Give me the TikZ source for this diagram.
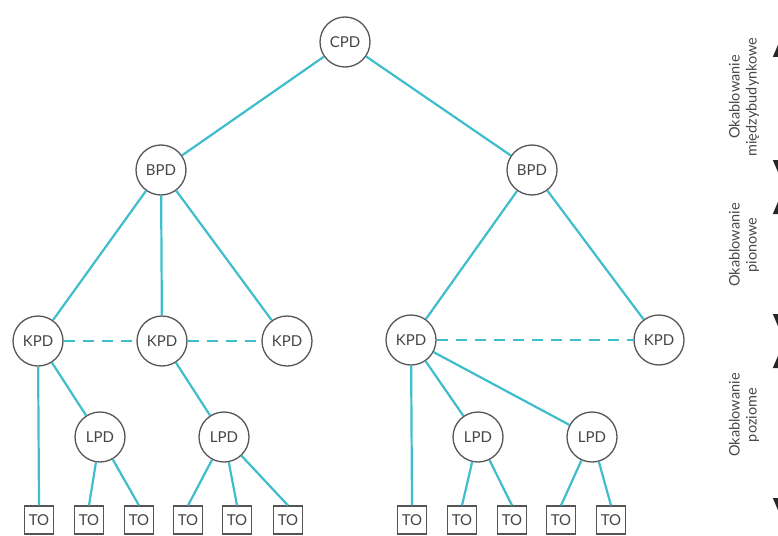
\documentclass[tikz,border=0pt]{standalone}
\usepackage{fontspec}
\setmainfont{Lato}
\usetikzlibrary{arrows.meta}
\definecolor{cyanline}{RGB}{62,190,204}
\definecolor{nodegray}{RGB}{85,85,85}
\definecolor{textgray}{RGB}{70,70,70}
\tikzset{
  pd/.style={circle,draw=nodegray,line width=1.3pt,fill=white,minimum size=50pt,inner sep=0pt,font=\fontsize{15}{17}\selectfont,text=textgray},
  tobox/.style={rectangle,draw=nodegray,line width=1.1pt,fill=white,minimum width=29pt,minimum height=28pt,inner sep=0pt,font=\fontsize{15}{17}\selectfont,text=textgray},
  link/.style={cyanline,line width=2.2pt},
  dlink/.style={cyanline,line width=2.2pt,dash pattern=on 11pt off 8pt},
  sidelabel/.style={rotate=90,align=center,font=\fontsize{14.5}{17}\selectfont,text=textgray},
  bigarrow/.style={line width=1.5pt,black!85,{Triangle[width=20pt,length=24pt]}-{Triangle[width=20pt,length=24pt]}}
}
\begin{document}
\begin{tikzpicture}[x=1pt,y=-1pt]
\useasboundingbox (0,0) rectangle (778,535);
% nodes
\node[pd] (cpd) at (345,42) {CPD};
\node[pd] (b1) at (161,170) {BPD};
\node[pd] (b2) at (532,170) {BPD};
\node[pd] (k1) at (38,341) {KPD};
\node[pd] (k2) at (162,341) {KPD};
\node[pd] (k3) at (287,341) {KPD};
\node[pd] (k4) at (411,340) {KPD};
\node[pd] (k5) at (659,340) {KPD};
\node[pd] (l1) at (100,437) {LPD};
\node[pd] (l2) at (224,437) {LPD};
\node[pd] (l3) at (478,437) {LPD};
\node[pd] (l4) at (592,437) {LPD};
\node[tobox] (t1) at (39,520) {TO};
\node[tobox] (t2) at (89,520) {TO};
\node[tobox] (t3) at (139,520) {TO};
\node[tobox] (t4) at (188,520) {TO};
\node[tobox] (t5) at (237,520) {TO};
\node[tobox] (t6) at (288,520) {TO};
\node[tobox] (t7) at (412,520) {TO};
\node[tobox] (t8) at (462,520) {TO};
\node[tobox] (t9) at (512,520) {TO};
\node[tobox] (t10) at (561,520) {TO};
\node[tobox] (t11) at (611,520) {TO};
% links
\draw[link] (cpd) -- (b1);
\draw[link] (cpd) -- (b2);
\draw[link] (b1) -- (k1);
\draw[link] (b1) -- (k2);
\draw[link] (b1) -- (k3);
\draw[link] (b2) -- (k4);
\draw[link] (b2) -- (k5);
\draw[dlink] (k1) -- (k2);
\draw[dlink] (k2) -- (k3);
\draw[dlink] (k4) -- (k5);
\draw[link] (k1) -- (l1);
\draw[link] (k2) -- (l2);
\draw[link] (k4) -- (l3);
\draw[link] (k4) -- (l4);
\draw[link] (k1) -- (t1.north);
\draw[link] (k4) -- (t7.north);
\draw[link] (l1) -- (t2.north);
\draw[link] (l1) -- (t3.north);
\draw[link] (l2) -- (t4.north);
\draw[link] (l2) -- (t5.north);
\draw[link] (l2) -- (t6.north);
\draw[link] (l3) -- (t8.north);
\draw[link] (l3) -- (t9.north);
\draw[link] (l4) -- (t10.north);
\draw[link] (l4) -- (t11.north);
% side labels
\node[sidelabel] (s1) at (744,97) {Okablowanie\\międzybudynkowe};
\node[sidelabel] (s2) at (744,245) {Okablowanie\\pionowe};
\node[sidelabel] (s3) at (744,415) {Okablowanie\\poziome};
% side arrows (mostly beyond the right edge)
\coordinate (a1t) at (783,33);
\coordinate (a1b) at (783,184);
\coordinate (a2t) at (783,190);
\coordinate (a2b) at (783,338);
\coordinate (a3t) at (783,344);
\coordinate (a3b) at (783,522);
\draw[bigarrow] (a1b) -- (a1t);
\draw[bigarrow] (a2b) -- (a2t);
\draw[bigarrow] (a3b) -- (a3t);
\end{tikzpicture}
\end{document}
